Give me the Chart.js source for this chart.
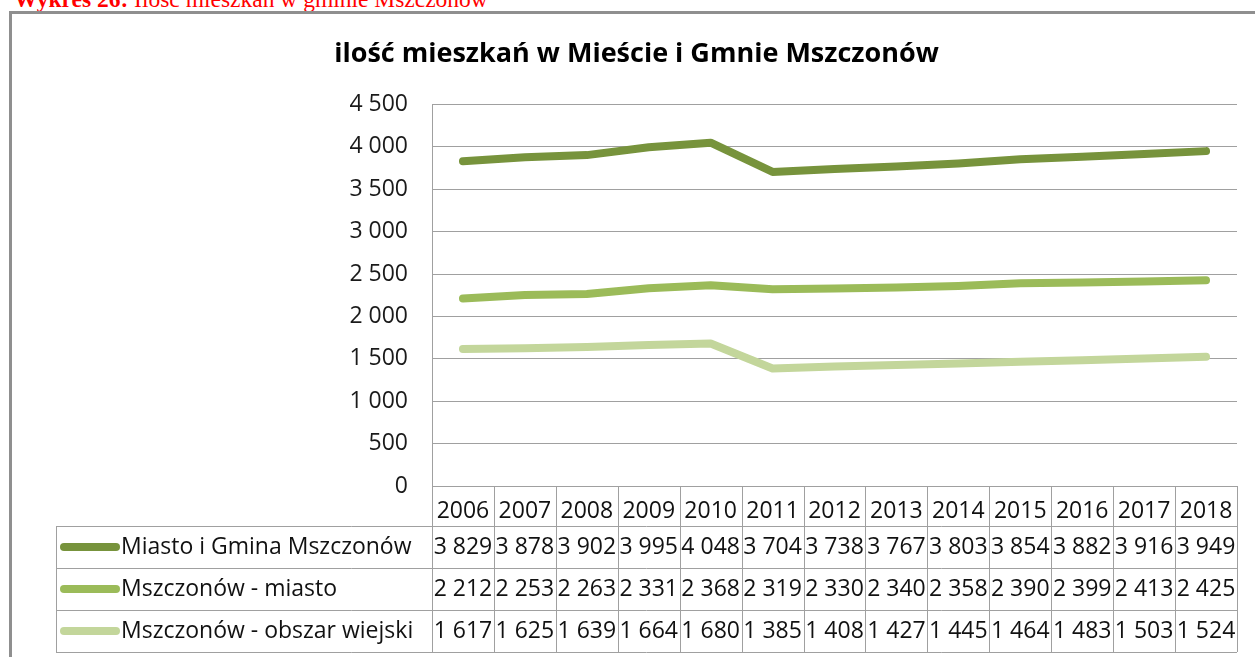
<!DOCTYPE html>
<html>
<head>
<meta charset="utf-8">
<script src="https://cdn.jsdelivr.net/npm/chart.js@4.4.1/dist/chart.umd.min.js"></script>
<style>
  body { margin: 0; width: 1255px; height: 657px; overflow: hidden; background: #fff; position: relative; }
  #caption { position: absolute; left: 14px; top: -13px; font-family: "Liberation Serif", serif; font-size: 23.5px; line-height: 1.1; color: #f00; white-space: nowrap; }
  #frame { position: absolute; left: 9px; top: 11px; width: 1300px; height: 700px; border: 3px solid #8f8f8f; box-sizing: border-box; }
  #myChart { position: absolute; left: 0; top: 0; }
</style>
</head>
<body>
<div id="caption"><b>Wykres 26:</b> Ilość mieszkań w gminie Mszczonów</div>
<div id="frame"></div>
<canvas id="myChart" width="1255" height="657"></canvas>
<script>
/* globals Chart */

const years = ["2006", "2007", "2008", "2009", "2010", "2011", "2012", "2013", "2014", "2015", "2016", "2017", "2018"];
const seriesNames = ["Miasto i Gmina Mszczonów", "Mszczonów - miasto", "Mszczonów - obszar wiejski"];
const gmina = [3829, 3878, 3902, 3995, 4048, 3704, 3738, 3767, 3803, 3854, 3882, 3916, 3949];
const miasto = [2212, 2253, 2263, 2331, 2368, 2319, 2330, 2340, 2358, 2390, 2399, 2413, 2425];
const wies = [1617, 1625, 1639, 1664, 1680, 1385, 1408, 1427, 1445, 1464, 1483, 1503, 1524];
const colors = ["#77933c", "#9bbb59", "#c3d69b"];

const FONT = "'Open Sans', sans-serif";
const fmt = (v) => String(v).replace(/\B(?=(\d{3})+(?!\d))/g, " ");

// data table under the plot, like in Excel
const dataTable = {
  id: "dataTable",
  afterDraw(chart) {
    const c = chart.ctx;
    const x = chart.scales.x;
    const area = chart.chartArea;
    const colW = (area.right - area.left) / years.length;
    const headerH = 40;
    const rowH = 42;
    const tableLeft = 56;
    const top = area.bottom;
    const rowsTop = top + headerH;
    const bottom = rowsTop + rowH * seriesNames.length;

    c.save();
    c.strokeStyle = "#a0a0a0";
    c.lineWidth = 1;
    c.beginPath();
    for (let i = 0; i <= years.length; i++) {
      const px = Math.round(area.left + i * colW) + 0.5;
      c.moveTo(px, top);
      c.lineTo(px, bottom);
    }
    c.moveTo(tableLeft + 0.5, rowsTop);
    c.lineTo(tableLeft + 0.5, bottom);
    for (let r = 0; r <= seriesNames.length; r++) {
      const py = Math.round(rowsTop + r * rowH) + 0.5;
      c.moveTo(tableLeft, py);
      c.lineTo(area.right, py);
    }
    c.stroke();

    const all = [gmina, miasto, wies];
    c.font = "23px " + FONT;
    c.fillStyle = "#111";
    c.textBaseline = "middle";
    all.forEach((vals, r) => {
      const cy = rowsTop + r * rowH + rowH / 2;
      c.strokeStyle = colors[r];
      c.lineWidth = 8;
      c.lineCap = "round";
      c.beginPath();
      c.moveTo(64, cy);
      c.lineTo(116, cy);
      c.stroke();
      c.textAlign = "left";
      c.fillText(seriesNames[r], 121, cy);
      c.textAlign = "center";
      vals.forEach((v, i) => {
        c.fillText(fmt(v), x.getPixelForValue(i), cy);
      });
    });
    c.restore();
  },
};

const ctx = document.getElementById("myChart").getContext("2d");

/* exported myChart */
const myChart = new Chart(ctx, {
  type: "line",
  plugins: [dataTable],
  data: {
    labels: years,
    datasets: [gmina, miasto, wies].map((d, i) => ({
      label: seriesNames[i],
      data: d,
      borderColor: colors[i],
      backgroundColor: colors[i],
      borderWidth: 8,
      borderCapStyle: "round",
      borderJoinStyle: "round",
      pointRadius: 0,
      tension: 0,
    })),
  },
  options: {
    responsive: false,
    devicePixelRatio: 1,
    animation: false,
    events: [],
    layout: { padding: { top: 0, right: 18, left: 36, bottom: 0 } },
    scales: {
      x: {
        offset: true,
        grid: { display: false },
        border: { display: true, color: "#a0a0a0" },
        ticks: { color: "#111", font: { family: FONT, size: 23 }, padding: 4, maxRotation: 0 },
        afterFit(scale) {
          scale.height = 171;
        },
      },
      y: {
        min: 0,
        max: 4500,
        ticks: {
          stepSize: 500,
          color: "#1a1a1a",
          padding: 24,
          font: { family: FONT, size: 23 },
          callback: (v) => fmt(v),
        },
        grid: { color: "#a0a0a0", drawTicks: false },
        border: { display: true, color: "#a0a0a0" },
        afterFit(scale) {
          scale.width = 396;
        },
      },
    },
    plugins: {
      legend: { display: false },
      tooltip: { enabled: false },
      title: {
        display: true,
        text: "ilość mieszkań w Mieście i Gmnie Mszczonów",
        color: "#000",
        font: { family: FONT, size: 27, weight: "bold" },
        padding: { top: 38, bottom: 34 },
      },
    },
  },
});
</script>
</body>
</html>
